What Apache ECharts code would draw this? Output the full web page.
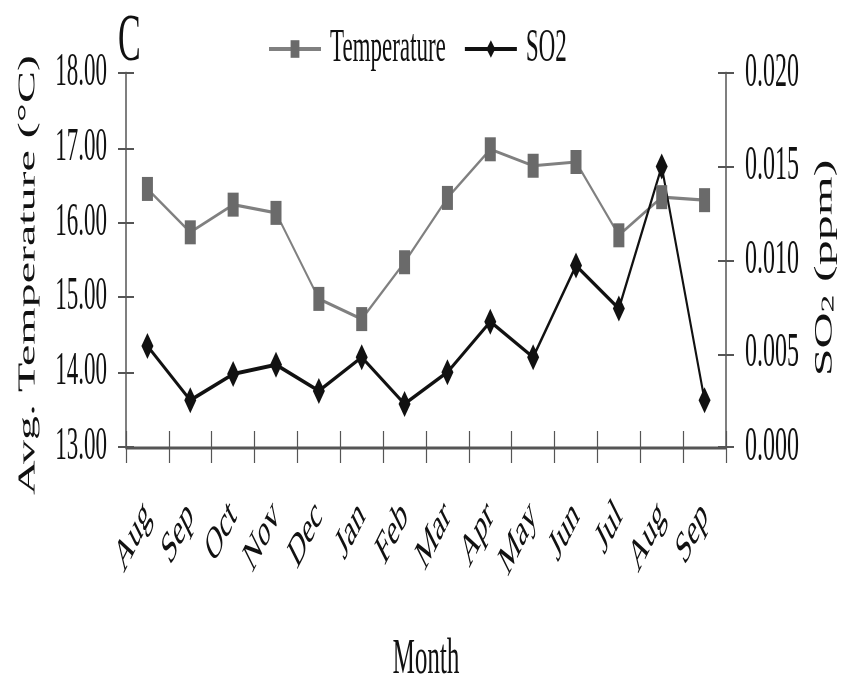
<!DOCTYPE html>
<html>
<head>
<meta charset="utf-8">
<script src="https://cdn.jsdelivr.net/npm/echarts@6/dist/echarts.min.js"></script>
<style>
  html, body { margin: 0; padding: 0; background: #fff; width: 842px; height: 688px; }
  .wrap { width: 842px; height: 688px; position: relative; }
  /* the source figure is stretched vertically, so draw at half height and stretch */
  #chart { position: absolute; left: 0; top: 0; width: 842px; height: 344px; transform: scale(1, 2); transform-origin: 0 0; }
</style>
</head>
<body>
<div class="wrap"><div id="chart"></div></div>
<script>
const months = ["Aug", "Sep", "Oct", "Nov", "Dec", "Jan", "Feb", "Mar", "Apr", "May", "Jun", "Jul", "Aug", "Sep"];
const temperature = [16.45, 15.87, 16.24, 16.13, 14.98, 14.71, 15.47, 16.33, 16.98, 16.76, 16.81, 15.83, 16.34, 16.30];
const so2 = [0.0054, 0.0025, 0.0039, 0.0044, 0.0030, 0.0048, 0.0023, 0.0040, 0.0067, 0.0048, 0.0097, 0.0074, 0.0150, 0.0025];

const font = "'Liberation Serif', 'Times New Roman', serif";
const axisColor = "#555";

const chart = echarts.init(document.getElementById("chart"), null, { devicePixelRatio: 2 });

// ticks cross the axis lines, so each axis gets a twin that draws the inner half
const option = {
    backgroundColor: "#fff",
    animation: false,
    textStyle: { fontFamily: font, color: "#111" },
    grid: { left: 126, right: 116, top: 36.5, height: 187, outerBoundsMode: "none" },
    graphic: [
        {
            type: "text",
            left: 118,
            top: 4,
            style: { text: "C", font: "34px " + font, fill: "#111" },
        },
    ],
    legend: {
        left: 263,
        top: 8,
        itemWidth: 52,
        itemHeight: 11,
        itemGap: 18,
        data: ["Temperature", "SO2"],
        textStyle: { fontFamily: font, fontSize: 23, color: "#111", padding: [0, 0, 0, 4] },
    },
    xAxis: [
        {
            type: "category",
            data: months,
            name: "Month",
            nameLocation: "middle",
            nameGap: 94,
            nameTextStyle: { fontFamily: font, fontSize: 25, color: "#111" },
            axisLine: { lineStyle: { color: axisColor, width: 1.5 } },
            axisTick: { show: true, length: 8, lineStyle: { color: axisColor, width: 1.2 } },
            axisLabel: { rotate: 45, margin: 31, fontFamily: font, fontSize: 23, color: "#111" },
        },
        {
            type: "category",
            data: months,
            position: "bottom",
            axisLine: { show: false },
            axisTick: { show: true, inside: true, length: 8, lineStyle: { color: axisColor, width: 1.2 } },
            axisLabel: { show: false },
        },
    ],
    yAxis: [
        {
            type: "value",
            min: 13,
            max: 18,
            interval: 1,
            name: "Avg. Temperature (°C)",
            nameLocation: "middle",
            nameGap: 86,
            nameRotate: 90,
            nameTextStyle: { fontFamily: font, fontSize: 24, color: "#111", padding: [0, 15, 0, 0] },
            axisLine: { show: true, lineStyle: { color: axisColor, width: 1.5 } },
            axisTick: { show: true, length: 8, lineStyle: { color: axisColor, width: 1 } },
            splitLine: { show: false },
            axisLabel: {
                margin: 19,
                fontFamily: font,
                fontSize: 23,
                color: "#111",
                formatter: (v) => v.toFixed(2),
            },
        },
        {
            type: "value",
            position: "right",
            min: 0,
            max: 0.02,
            interval: 0.005,
            name: "{a|SO}{s|2}{a| (ppm)}",
            nameLocation: "middle",
            nameGap: 86,
            nameRotate: 90,
            nameTextStyle: {
                padding: [0, 8, 0, 0],
                rich: {
                    a: { fontFamily: font, fontSize: 25, color: "#111" },
                    s: { fontFamily: font, fontSize: 18, color: "#111", padding: [8, 0, 0, 0] },
                },
            },
            axisLine: { show: true, lineStyle: { color: axisColor, width: 1.5 } },
            axisTick: { show: true, length: 8, lineStyle: { color: axisColor, width: 1 } },
            splitLine: { show: false },
            axisLabel: {
                margin: 19,
                fontFamily: font,
                fontSize: 24,
                color: "#111",
                formatter: (v) => v.toFixed(3),
            },
        },
        {
            type: "value",
            min: 13,
            max: 18,
            interval: 1,
            position: "left",
            axisLine: { show: false },
            axisTick: { show: true, inside: true, length: 8, lineStyle: { color: axisColor, width: 1 } },
            axisLabel: { show: false },
            splitLine: { show: false },
        },
        {
            type: "value",
            min: 0,
            max: 0.02,
            interval: 0.005,
            position: "right",
            axisLine: { show: false },
            axisTick: { show: true, inside: true, length: 8, lineStyle: { color: axisColor, width: 1 } },
            axisLabel: { show: false },
            splitLine: { show: false },
        },
    ],
    series: [
        {
            name: "Temperature",
            type: "line",
            yAxisIndex: 0,
            data: temperature,
            symbol: "rect",
            symbolSize: [11, 12],
            lineStyle: { color: "#808080", width: 1.6 },
            itemStyle: { color: "#6a6a6a" },
        },
        {
            name: "SO2",
            type: "line",
            yAxisIndex: 1,
            data: so2,
            symbol: "diamond",
            symbolSize: [12, 13],
            lineStyle: { color: "#111", width: 2 },
            itemStyle: { color: "#111" },
        },
    ],
};

chart.setOption(option);
</script>
</body>
</html>
